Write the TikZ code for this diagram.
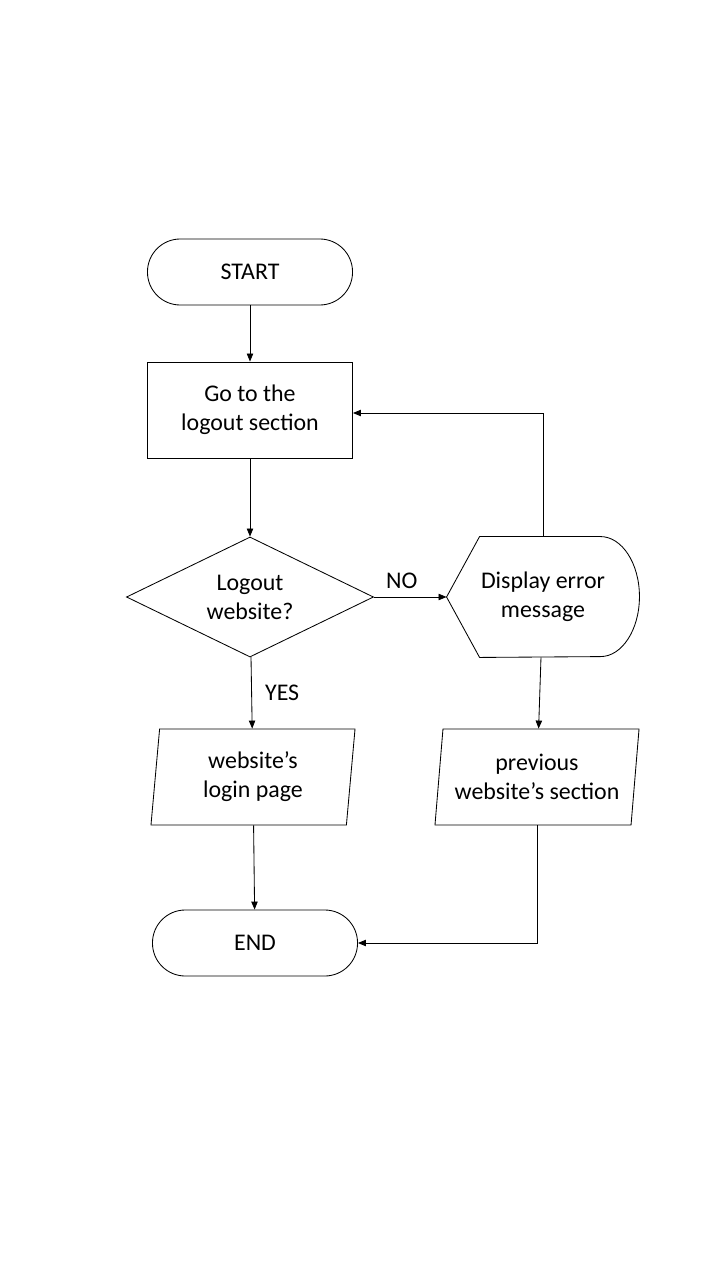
\documentclass[tikz,border=0pt]{standalone}
\usepackage{fontspec}
\setmainfont{Carlito}
\usetikzlibrary{shapes.geometric,arrows.meta}
\begin{document}
\begin{tikzpicture}[x=0.025cm, y=-0.025cm, line width=0.6pt, font=\fontsize{17}{20.5}\selectfont,
    terminal/.style={draw, rectangle, rounded corners=0.82cm, minimum width=5.125cm, minimum height=1.65cm},
    process/.style={draw, rectangle, minimum width=5.125cm, minimum height=2.4cm, align=center},
    decision/.style={draw, diamond, aspect=2, inner sep=1pt, minimum width=6.175cm, minimum height=3cm, align=center},
    io/.style={draw, trapezium, trapezium left angle=81.7, trapezium right angle=98.3, trapezium stretches body,
        minimum width=5.1cm, minimum height=2.4cm, inner xsep=1pt, align=center},
    display/.style={rectangle, minimum width=4.8cm, minimum height=3cm, align=center},
    flow/.style={-{Triangle[length=2mm,width=1.6mm]}}]
		\useasboundingbox (0,0) rectangle (720,1280);
		\node[terminal] (start) at (250,272) {START};
		\node[process] (go) at (250,410) {Go to the\\logout section};
		\node[decision] (ask) at (250,597) {Logout\\website?};
		\node[display] (disp) at (543,597) {Display error\\message};
		\draw (disp.west) -- ([xshift=0.825cm]disp.north west) -- ([xshift=-0.975cm]disp.north east)
		    arc[start angle=90, end angle=-90, x radius=0.975cm, y radius=1.5cm]
		    -- ([xshift=0.825cm]disp.south west) -- cycle;
		\node[io] (login) at (253,777) {website's\\login page};
		\node[io] (prev) at (537,777) {previous\\website's section};
		\node[terminal] (end) at (255,943) {END};

		\draw[flow] (start) -- (go);
		\draw[flow] (go) -- (ask);
		\draw[flow] (ask) -- node[above=2pt, xshift=-6pt] {NO} (disp.west);
		\draw[flow] (disp.north) |- ([yshift=-0.075cm]go.east);
		\draw[flow] (disp) -- (prev);
		\draw[flow] (ask) -- node[right=6pt] {YES} (login);
		\draw[flow] (login) -- (end);
		\draw[flow] (prev.south) |- (end.east);

	    \end{tikzpicture}
\end{document}
